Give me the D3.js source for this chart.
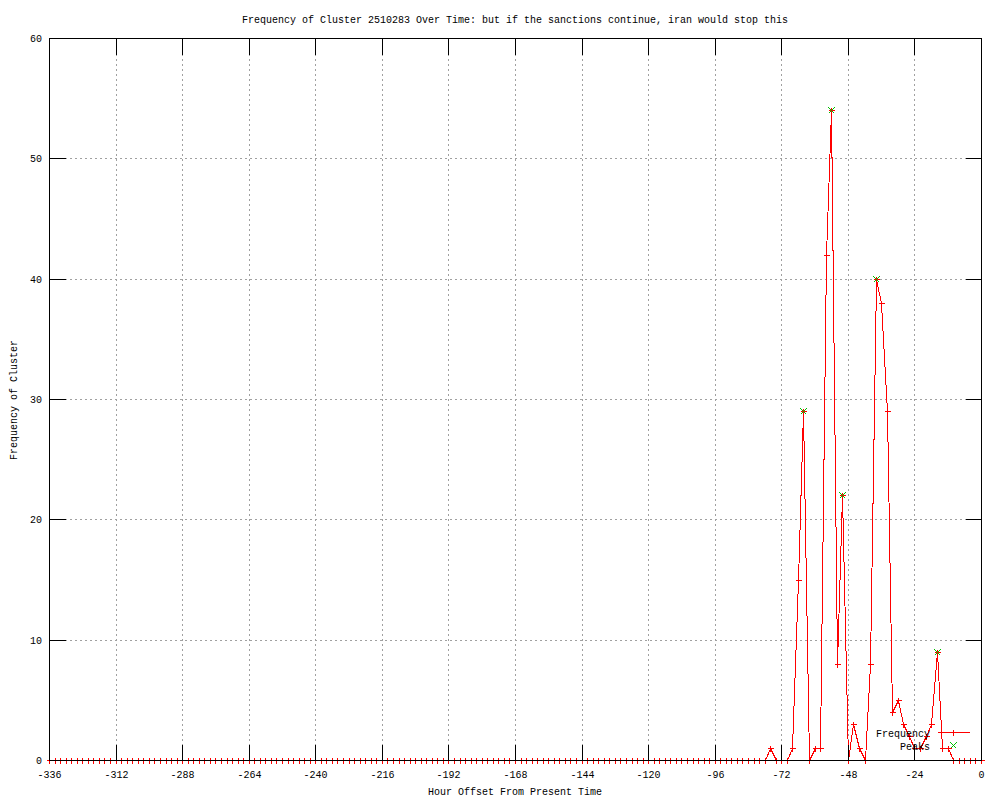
<!DOCTYPE html>
<html>
<head>
<meta charset="utf-8">
<script src="https://cdn.jsdelivr.net/npm/d3@7"></script>
<style>
    body { margin:0; background:#fff; }
    text { font-family:"Liberation Mono","DejaVu Sans Mono",monospace; font-size:10px; fill:#000; }
</style>
</head>
<body>
<div id="chart"></div>
<script>

//******************************************************************************
//**  Data
//******************************************************************************
var title = "Frequency of Cluster 2510283 Over Time: but if the sanctions continue, iran would stop this";
var xLabel = "Hour Offset From Present Time";
var yLabel = "Frequency of Cluster";

// hour offsets, one sample every 2 hours from -336 to 0
var hours = d3.range(-336, 1, 2);

// frequency at each hour (169 values)
var frequency = [
    0,0,0,0,0,0,0,0,0,0, 0,0,0,0,0,0,0,0,0,0,   // -336 .. -298
    0,0,0,0,0,0,0,0,0,0, 0,0,0,0,0,0,0,0,0,0,   // -296 .. -258
    0,0,0,0,0,0,0,0,0,0, 0,0,0,0,0,0,0,0,0,0,   // -256 .. -218
    0,0,0,0,0,0,0,0,0,0, 0,0,0,0,0,0,0,0,0,0,   // -216 .. -178
    0,0,0,0,0,0,0,0,0,0, 0,0,0,0,0,0,0,0,0,0,   // -176 .. -138
    0,0,0,0,0,0,0,0,0,0, 0,0,0,0,0,0,0,0,0,0,   // -136 .. -98
    0,0,0,0,0,0,0,0,0,0,                        //  -96 .. -78
    1,0,0,0,1,15,29,0,1,1,                      //  -76 .. -58
    42,54,8,22,0,3,1,0,8,40,                    //  -56 .. -38
    38,29,4,5,3,2,1,1,2,3,                      //  -36 .. -18
    9,1,1,0,0,0,0,0,0                           //  -16 .. 0
];

// detected peaks
var peakHours = [-64, -54, -50, -38, -16];
var peakValues = [29, 54, 22, 40, 9];

var xTicks = [-336,-312,-288,-264,-240,-216,-192,-168,-144,-120,-96,-72,-48,-24,0];
var yTicks = [0,10,20,30,40,50,60];


//******************************************************************************
//**  Chart
//******************************************************************************
var render = function(){
    var width = 1000, height = 800;
    var plotLeft = 49.5, plotRight = 981.5, plotTop = 38.5, plotBottom = 760.5;
    var tickLen = 16;

    var svg = d3.select("#chart").append("svg")
        .attr("width", width)
        .attr("height", height);

    var x = d3.scaleLinear().domain([-336, 0]).range([plotLeft, plotRight]);
    var y = d3.scaleLinear().domain([0, 60]).range([plotBottom, plotTop]);

    var px = function(v){ return Math.round(v - 0.5) + 0.5; };


  // grid
    var grid = svg.append("g")
        .attr("stroke", "#a0a0a0")
        .attr("stroke-dasharray", "2,3")
        .attr("shape-rendering", "crispEdges");

    xTicks.slice(1, -1).forEach(function(t){
        grid.append("line")
            .attr("x1", px(x(t))).attr("x2", px(x(t)))
            .attr("y1", plotTop).attr("y2", plotBottom);
    });
    yTicks.slice(1, -1).forEach(function(t){
        grid.append("line")
            .attr("x1", plotLeft).attr("x2", plotRight)
            .attr("y1", px(y(t))).attr("y2", px(y(t)));
    });


  // frequency line
    var points = hours.map(function(h, i){ return [h, frequency[i]]; });

    var line = d3.line()
        .x(function(d){ return px(x(d[0])); })
        .y(function(d){ return px(y(d[1])); });

    svg.append("path")
        .datum(points)
        .attr("d", line)
        .attr("fill", "none")
        .attr("stroke", "#ff0000")
        .attr("stroke-width", 1)
        .attr("shape-rendering", "crispEdges");


  // point markers
    var plus = function(g, cx, cy, color){
        g.append("path")
            .attr("d", "M" + (cx-3) + "," + cy + "h6M" + cx + "," + (cy-3) + "v6")
            .attr("stroke", color)
            .attr("fill", "none")
            .attr("shape-rendering", "crispEdges");
    };
    var cross = function(g, cx, cy, color){
        g.append("path")
            .attr("d", "M" + (cx-3) + "," + (cy-3) + "l6,6M" + (cx-3) + "," + (cy+3) + "l6,-6")
            .attr("stroke", color)
            .attr("fill", "none")
            .attr("shape-rendering", "crispEdges");
    };

    var markers = svg.append("g");
    points.forEach(function(d){
        plus(markers, px(x(d[0])), px(y(d[1])), "#ff0000");
    });

    var peaks = svg.append("g");
    peakHours.forEach(function(h, i){
        cross(peaks, px(x(h)), px(y(peakValues[i])), "#00c000");
    });


  // border and ticks
    var axes = svg.append("g")
        .attr("stroke", "#000")
        .attr("shape-rendering", "crispEdges");

    axes.append("rect")
        .attr("x", plotLeft).attr("y", plotTop)
        .attr("width", plotRight - plotLeft).attr("height", plotBottom - plotTop)
        .attr("fill", "none");

    xTicks.forEach(function(t){
        var xx = px(x(t));
        axes.append("line").attr("x1", xx).attr("x2", xx).attr("y1", plotBottom).attr("y2", plotBottom - tickLen);
        axes.append("line").attr("x1", xx).attr("x2", xx).attr("y1", plotTop).attr("y2", plotTop + tickLen);
        svg.append("text")
            .attr("x", xx).attr("y", 777.5)
            .attr("text-anchor", "middle")
            .text(t);
    });

    yTicks.forEach(function(t){
        var yy = px(y(t));
        axes.append("line").attr("x1", plotLeft).attr("x2", plotLeft + tickLen).attr("y1", yy).attr("y2", yy);
        axes.append("line").attr("x1", plotRight).attr("x2", plotRight - tickLen).attr("y1", yy).attr("y2", yy);
        svg.append("text")
            .attr("x", 42).attr("y", yy + 3.5)
            .attr("text-anchor", "end")
            .text(t);
    });


  // labels
    svg.append("text")
        .attr("x", 515).attr("y", 23)
        .attr("text-anchor", "middle")
        .text(title);

    svg.append("text")
        .attr("x", 515).attr("y", 795)
        .attr("text-anchor", "middle")
        .text(xLabel);

    svg.append("text")
        .attr("transform", "translate(17,400) rotate(-90)")
        .attr("text-anchor", "middle")
        .text(yLabel);


  // legend
    var legend = svg.append("g");

    legend.append("text")
        .attr("x", 930).attr("y", 736.5)
        .attr("text-anchor", "end")
        .text("Frequency");
    legend.append("line")
        .attr("x1", 937.5).attr("x2", 969.5)
        .attr("y1", 732.5).attr("y2", 732.5)
        .attr("stroke", "#ff0000")
        .attr("shape-rendering", "crispEdges");
    plus(legend, 953.5, 732.5, "#ff0000");

    legend.append("text")
        .attr("x", 930).attr("y", 749.5)
        .attr("text-anchor", "end")
        .text("Peaks");
    cross(legend, 953.5, 745.5, "#00c000");
};

render();

</script>
</body>
</html>
